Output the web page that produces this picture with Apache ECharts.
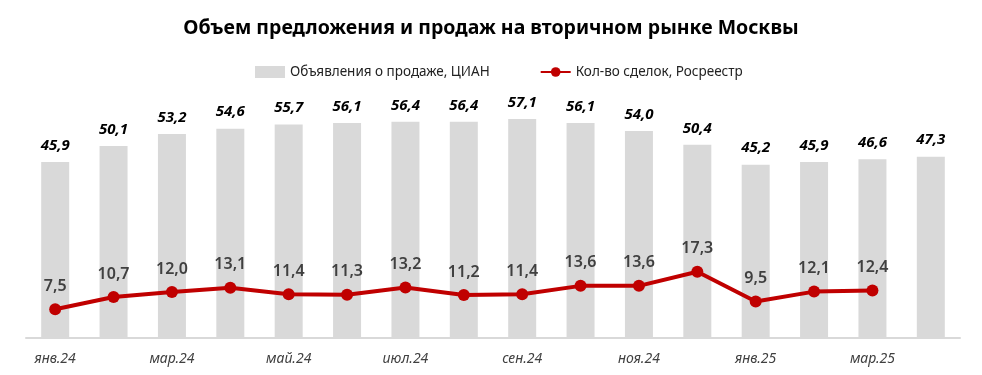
<!DOCTYPE html>
<html lang="ru">
<head>
    <meta charset="UTF-8">
    <title>Вторичный рынок Москвы</title>
    <script src="https://cdn.jsdelivr.net/npm/echarts@6/dist/echarts.min.js"></script>
    <style>
        html, body { margin: 0; padding: 0; background: #fff; }
    </style>
</head>
<body>
    <div id="main" style="width: 982px; height: 375px;"></div>
    <script>
        const months = ['янв.24', 'фев.24', 'мар.24', 'апр.24', 'май.24', 'июн.24', 'июл.24', 'авг.24',
            'сен.24', 'окт.24', 'ноя.24', 'дек.24', 'янв.25', 'фев.25', 'мар.25', 'апр.25'];
        const listings = [45.9, 50.1, 53.2, 54.6, 55.7, 56.1, 56.4, 56.4, 57.1, 56.1, 54.0, 50.4, 45.2, 45.9, 46.6, 47.3];
        const deals = [7.5, 10.7, 12.0, 13.1, 11.4, 11.3, 13.2, 11.2, 11.4, 13.6, 13.6, 17.3, 9.5, 12.1, 12.4, null];

        const font = 'Noto Sans';
        const fmt = v => v.toFixed(1).replace('.', ',');

        const option = {
            animation: false,
            textStyle: { fontFamily: font },
            title: {
                text: 'Объем предложения и продаж на вторичном рынке Москвы',
                left: 'center',
                top: 13,
                textStyle: { fontFamily: font, fontSize: 19.5, fontWeight: 'bold', color: '#000' }
            },
            legend: {
                top: 60,
                left: 250,
                itemGap: 50,
                itemWidth: 30,
                itemHeight: 12,
                textStyle: { fontFamily: font, fontSize: 13.5, color: '#222' },
                data: [
                    { name: 'Объявления о продаже, ЦИАН', icon: 'rect' },
                    { name: 'Кол-во сделок, Росреестр' }
                ]
            },
            grid: { left: 26, right: 22, top: 108, bottom: 37 },
            xAxis: {
                type: 'category',
                data: months,
                axisLine: { lineStyle: { color: '#d9d9d9', width: 2 } },
                axisTick: { show: false },
                axisLabel: {
                    interval: 1,
                    fontStyle: 'italic',
                    fontSize: 14,
                    color: '#404040',
                    margin: 14
                }
            },
            yAxis: {
                type: 'value',
                min: 0,
                max: 60,
                show: false,
                splitLine: { show: false }
            },
            series: [
                {
                    name: 'Объявления о продаже, ЦИАН',
                    type: 'bar',
                    data: listings,
                    barWidth: 28,
                    itemStyle: { color: '#d9d9d9' },
                    label: {
                        show: true,
                        position: 'top',
                        distance: 9,
                        formatter: p => fmt(p.value),
                        fontSize: 15,
                        fontWeight: 'bold',
                        fontStyle: 'italic',
                        color: '#000'
                    }
                },
                {
                    name: 'Кол-во сделок, Росреестр',
                    type: 'line',
                    data: deals,
                    symbol: 'circle',
                    symbolSize: 12,
                    lineStyle: { color: '#c00000', width: 4 },
                    itemStyle: { color: '#c00000' },
                    label: {
                        show: true,
                        position: 'top',
                        distance: 9,
                        formatter: p => fmt(p.value),
                        fontSize: 16,
                        fontWeight: 600,
                        color: '#404040'
                    }
                }
            ]
        };

        const myChart = echarts.init(document.getElementById('main'));
        myChart.setOption(option);
    </script>
</body>
</html>
